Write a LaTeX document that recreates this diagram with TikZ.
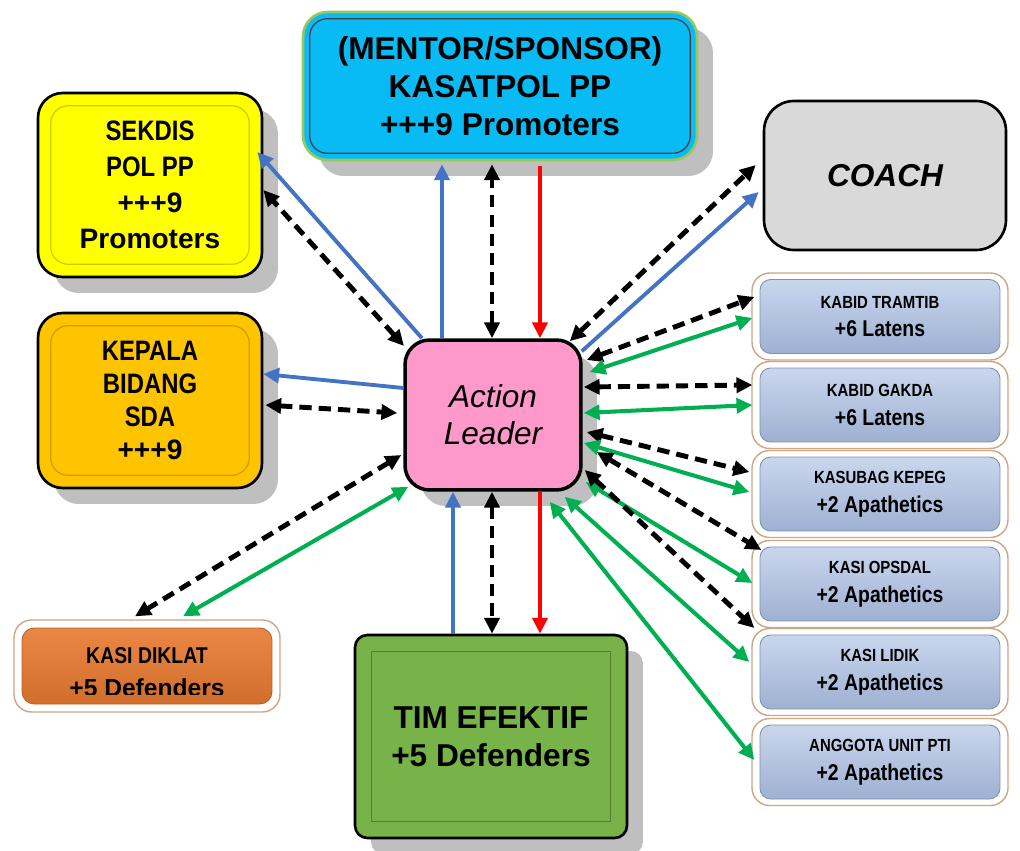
\documentclass[tikz,border=0pt]{standalone}
\usepackage{fontspec}
\setmainfont{Liberation Sans}
\newfontfamily\narrowsf[FakeStretch=0.85]{Liberation Sans}
\usetikzlibrary{arrows.meta,shadows}
\definecolor{sky}{RGB}{8,187,245}
\definecolor{skyrim}{RGB}{150,200,95}
\definecolor{lemon}{RGB}{255,255,0}
\definecolor{gold}{RGB}{255,196,0}
\definecolor{rose}{RGB}{255,153,204}
\definecolor{leaf}{RGB}{119,179,72}
\definecolor{silver}{RGB}{217,217,217}
\definecolor{pumpkin}{RGB}{233,122,48}
\definecolor{steel}{RGB}{172,192,228}
\definecolor{tanrim}{RGB}{205,165,135}
\definecolor{shade}{RGB}{191,191,191}
\definecolor{lnblue}{RGB}{68,114,196}
\definecolor{lngreen}{RGB}{0,176,80}
\definecolor{lnred}{RGB}{255,0,0}

\begin{document}
\begin{tikzpicture}[
  x=0.02cm, y=-0.02cm,
  line width=0.5pt,
  >={Triangle[length=9pt,width=8.5pt]},
  every node/.style={inner sep=0pt, align=center, text=black},
  shd/.style={drop shadow={shadow xshift=0.32cm, shadow yshift=-0.32cm, fill=shade, opacity=1}},
  bigbox/.style={draw=black, line width=1.5pt, rounded corners=14pt, shd},
  bevel/.style={draw=#1, line width=0.7pt, rounded corners=10pt},
  sidebox/.style={draw=tanrim, fill=white, line width=0.8pt, rounded corners=10pt,
              minimum width=5.12cm, minimum height=1.74cm},
  sideface/.style={draw=steel!75!black, top color=steel!65!white, bottom color=steel!92!black,
              rounded corners=6pt, minimum width=4.8cm, minimum height=1.48cm,
              font=\narrowsf\bfseries\fontsize{13}{16.4}\selectfont},
  bluearr/.style={draw=lnblue, line width=2.2pt, ->},
  redarr/.style={draw=lnred, line width=2.2pt, ->},
  blkarr/.style={draw=black, line width=2.8pt, dash pattern=on 7pt off 4pt, <->},
  grnarr/.style={draw=lngreen, line width=2.3pt, <->},
]
\useasboundingbox (0,0) rectangle (1020,851);

% ---------------- boxes ----------------
\node[bigbox, fill=sky, draw=skyrim, minimum width=7.88cm, minimum height=2.96cm,
      font=\bfseries\fontsize{18}{21.5}\selectfont] (mentor) at (500,86)
      {(MENTOR/SPONSOR)\\KASATPOL PP\\+++9 Promoters};
\draw[bevel=black!75] ([shift={(8,8)}]mentor.north west) rectangle ([shift={(-8,-8)}]mentor.south east);

\node[bigbox, fill=lemon, minimum width=4.48cm, minimum height=3.68cm,
      font=\bfseries\fontsize{16}{20.4}\selectfont] (sekdis) at (150,185)
      {{\narrowsf SEKDIS}\\{\narrowsf POL PP}\\+++9\\Promoters};
\draw[bevel=lemon!80!black] ([shift={(14,14)}]sekdis.north west) rectangle ([shift={(-14,-14)}]sekdis.south east);

\node[bigbox, fill=gold, minimum width=4.48cm, minimum height=3.5cm,
      font=\bfseries\fontsize{16}{18.7}\selectfont] (kepala) at (150,400.5)
      {{\narrowsf KEPALA}\\{\narrowsf BIDANG}\\{\narrowsf SDA}\\+++9};
\draw[bevel=gold!80!black] ([shift={(14,14)}]kepala.north west) rectangle ([shift={(-14,-14)}]kepala.south east);

\node[draw=black, line width=1.5pt, fill=silver, rounded corners=17pt, minimum width=4.84cm,
      minimum height=2.98cm, font=\bfseries\itshape\fontsize{18}{21}\selectfont] (coach) at (885,175.5) {COACH};

\node[bigbox, fill=rose, line width=2pt, minimum width=3.52cm, minimum height=3cm,
      font=\itshape\fontsize{18}{21}\selectfont] (hub) at (493,415) {Action\\Leader};

\node[bigbox, fill=leaf, rounded corners=7pt, minimum width=5.44cm, minimum height=4.06cm,
      font=\bfseries\fontsize{18}{21.5}\selectfont] (timef) at (491,736.5) {TIM EFEKTIF\\+5 Defenders};
\draw[draw=leaf!70!black, line width=0.6pt] ([shift={(18,18)}]timef.north west) rectangle ([shift={(-18,-18)}]timef.south east);

\node[sidebox, minimum width=5.32cm, minimum height=1.84cm] (diklat) at (147,666) {};
\node[draw=pumpkin!80!black, top color=pumpkin!90!white, bottom color=pumpkin!90!black, rounded corners=7pt,
      minimum width=5cm, minimum height=1.52cm] (diklat-in) at (diklat) {};
\begin{scope}
  \clip (diklat-in.north west) rectangle ([shift={(0,-10)}]diklat-in.south east);
  \node[font=\narrowsf\bfseries\fontsize{13}{18.7}\selectfont] (diklat-txt) at ([shift={(0,6)}]diklat.center)
        {KASI DIKLAT\\{\rmfamily\fontsize{14}{18.7}\selectfont +5 Defenders}};
\end{scope}

\foreach \nm/\cy/\lna/\lnb in {tramtib/316.5/KABID TRAMTIB/+6 Latens, gakda/405/KABID GAKDA/+6 Latens,
    kepeg/494/KASUBAG KEPEG/+2 Apathetics, opsdal/584/KASI OPSDAL/+2 Apathetics,
    lidik/672/KASI LIDIK/+2 Apathetics, pti/762/ANGGOTA UNIT PTI/+2 Apathetics} {
  \node[sidebox] (\nm) at (880,\cy) {};
  \node[sideface] (\nm-in) at (\nm) {{\fontsize{10}{16.4}\selectfont \lna}\\\lnb};
}

% ---------------- links ----------------
% mentor and tim efektif
\draw[bluearr] ([shift={(-51,0)}]hub.north) -- ([shift={(-58,3)}]mentor.south);
\draw[blkarr] ([shift={(-1,0)}]hub.north) -- ([shift={(-8,3)}]mentor.south);
\draw[redarr] ([shift={(40,5)}]mentor.south) -- ([shift={(47,0)}]hub.north);
\draw[bluearr] ([shift={(-38,0)}]timef.north) -- ([shift={(-40,0)}]hub.south);
\draw[blkarr] ([shift={(-1,0)}]hub.south) -- ([shift={(1,0)}]timef.north);
\draw[redarr] ([shift={(47,0)}]hub.south) -- ([shift={(49,0)}]timef.north);

% left side
\draw[bluearr] ([shift={(-71,0)}]hub.north) -- ([shift={(-6,-33)}]sekdis.east);
\draw[blkarr] ([shift={(-89,-69)}]hub.center) -- ([shift={(0,5)}]sekdis.east);
\draw[bluearr] ([shift={(0,-27)}]hub.west) -- ([shift={(0,-26.5)}]kepala.east);
\draw[blkarr] ([shift={(2,4.5)}]kepala.east) -- ([shift={(-6,-2)}]hub.west);
\draw[blkarr] ([shift={(-2,40)}]hub.west) -- ([shift={(-12,-3)}]diklat.north);
\draw[grnarr] ([shift={(5,-5)}]hub.south west) -- ([shift={(36,-3)}]diklat.north);

% coach
\draw[blkarr] ([shift={(-13,3)}]hub.north east) -- ([shift={(-7,-10.5)}]coach.west);
\draw[bluearr] ([shift={(-1,13)}]hub.north east) -- ([shift={(-4,16.5)}]coach.west);

% right column
\draw[blkarr] ([shift={(4,-55)}]hub.east) -- ([shift={(3,-19.5)}]tramtib.west);
\draw[grnarr] ([shift={(7,-43)}]hub.east) -- ([shift={(1,1.5)}]tramtib.west);
\draw[blkarr] ([shift={(1,-28)}]hub.east) -- ([shift={(1,-20)}]gakda.west);
\draw[grnarr] ([shift={(1,-2)}]hub.east) -- ([shift={(1,0)}]gakda.west);
\draw[blkarr] ([shift={(4,17)}]hub.east) -- ([shift={(-2,-22)}]kepeg.west);
\draw[grnarr] ([shift={(1,28)}]hub.east) -- ([shift={(-2,-2)}]kepeg.west);
\draw[blkarr] ([shift={(14,37)}]hub.east) -- ([shift={(10,-34)}]opsdal.west);
\draw[grnarr] ([shift={(3,67)}]hub.east) -- ([shift={(1,-1)}]opsdal.west);
\draw[blkarr] ([shift={(2,55)}]hub.east) -- ([shift={(3,-44)}]lidik.west);
\draw[grnarr] ([shift={(-18,5)}]hub.south east) -- ([shift={(-2,-10)}]lidik.west);
\draw[grnarr] ([shift={(-33,10)}]hub.south east) -- ([shift={(3,-2)}]pti.west);

\end{tikzpicture}
\end{document}
